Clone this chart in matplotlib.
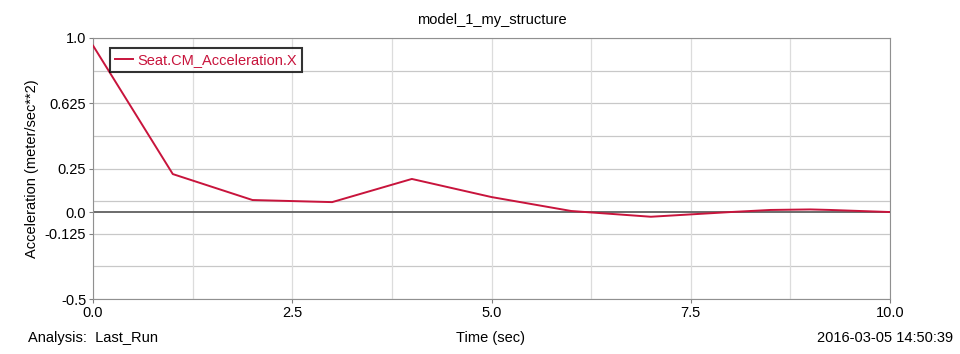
import numpy as np
import matplotlib
matplotlib.use('Agg')
import matplotlib.pyplot as plt

plt.rcParams['font.family'] = ['Liberation Sans', 'DejaVu Sans']

# values
time_sec = [0, 1, 2, 3, 4, 5, 6, 7, 8, 8.5, 9, 9.25, 10]
accel_x = [0.955, 0.218, 0.069, 0.057, 0.19, 0.086, 0.006, -0.027, 0.0, 0.012, 0.015, 0.012, 0.0]
y_labels = [1.0, 0.625, 0.25, 0.0, -0.125, -0.5]
x_labels = [0.0, 2.5, 5.0, 7.5, 10.0]

fig = plt.figure(figsize=(9.6, 3.54), dpi=100)
ax = fig.add_axes([0.097, 0.155, 0.830, 0.738])

# grid lines
for gy in np.arange(-0.5, 1.01, 0.1875):
    ax.axhline(gy, color='#c8c8c8', lw=0.9, zorder=0)
for gx in np.arange(0, 10.01, 1.25):
    ax.axvline(gx, color='#dcdcdc', lw=0.9, zorder=0)
ax.axhline(0.0, color='#606060', lw=1.3, zorder=1)

ax.plot(time_sec, accel_x, color='#c8143c', lw=1.4, label='Seat.CM_Acceleration.X', zorder=3)

ax.set_xlim(0, 10)
ax.set_ylim(-0.5, 1.0)
ax.set_yticks(y_labels)
ax.set_yticklabels([str(v) for v in y_labels])
ax.set_xticks(x_labels)
ax.set_xticklabels([str(v) for v in x_labels])
ax.tick_params(labelsize=10.5, length=3, color='#808080', pad=2)
for s in ax.spines.values():
    s.set_color('#909090')

ax.set_title('model_1_my_structure', fontsize=10.5, pad=10)
ax.set_ylabel('Acceleration (meter/sec**2)', fontsize=10.5, labelpad=4)

leg = ax.legend(loc='upper left', bbox_to_anchor=(0.012, 0.99), fontsize=10.5,
                frameon=True, fancybox=False, handlelength=1.2, handletextpad=0.3,
                borderpad=0.35, labelcolor='#c8143c')
leg.get_frame().set_edgecolor('black')
leg.get_frame().set_linewidth(1.5)

fig.text(0.029, 0.045, 'Analysis:  Last_Run', fontsize=10.5, va='center')
fig.text(0.511, 0.045, 'Time (sec)', fontsize=10.5, va='center', ha='center')
fig.text(0.993, 0.045, '2016-03-05 14:50:39', fontsize=10.5, va='center', ha='right')

fig.savefig('out.png', dpi=100)
